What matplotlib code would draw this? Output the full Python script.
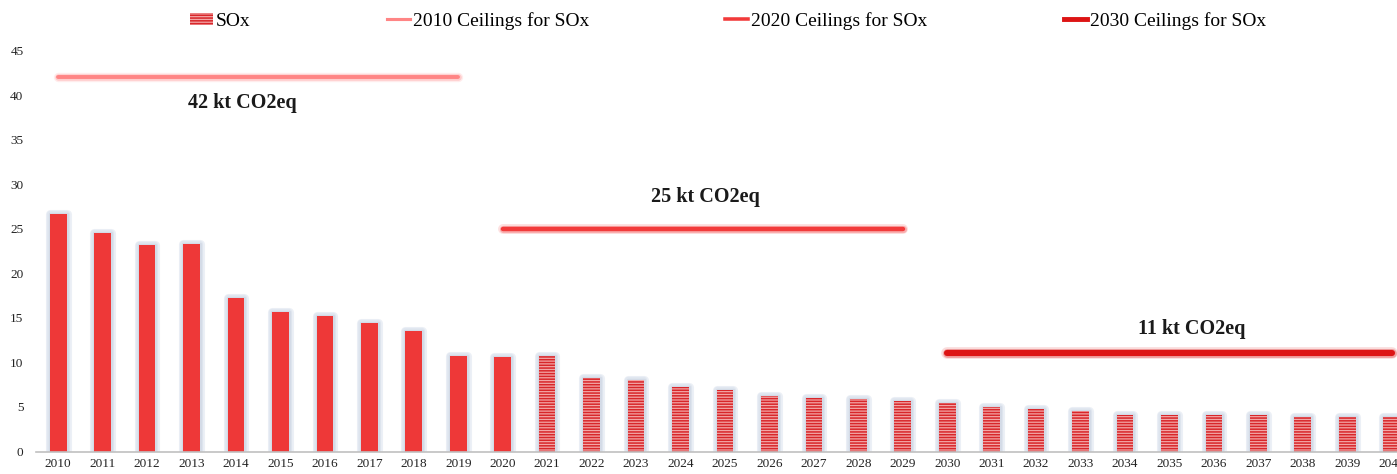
import matplotlib
matplotlib.use("Agg")
import matplotlib.pyplot as plt
import matplotlib.patheffects as pe
from matplotlib.patches import Patch
from matplotlib.lines import Line2D
import numpy as np

## Data
years = list(range(2010, 2041))
sox = [26.6, 24.5, 23.2, 23.3, 17.25, 15.7, 15.15, 14.45, 13.55, 10.7,
       10.65, 10.75, 8.2, 8.05, 7.2, 6.85, 6.25, 6.05, 5.9, 5.7,
       5.4, 4.95, 4.75, 4.6, 4.1, 4.1, 4.1, 4.1, 3.9, 3.9, 3.9]
n_actual = 11  # 2010-2020 are historic, the rest projected

ceiling_labels = ["2010 Ceilings for SOx", "2020 Ceilings for SOx", "2030 Ceilings for SOx"]
ceiling_values = [42, 25, 11]
ceiling_spans = [(2010, 2019), (2020, 2029), (2030, 2040)]
ceiling_texts = ["42 kt CO2eq", "25 kt CO2eq", "11 kt CO2eq"]

plt.rcParams['font.family'] = ['Liberation Serif', 'DejaVu Serif']
plt.rcParams['hatch.linewidth'] = 1.1

fig = plt.figure(figsize=(13.97, 4.74), dpi=100)
ax = fig.add_axes([36 / 1397, 1 - 451.5 / 474, 1 - 36 / 1397, (451.5 - 50.5) / 474])

x = np.arange(len(years))
# soft bluish halo around the bars
glow = [pe.Stroke(linewidth=6.5, foreground='#ecf0f6', joinstyle='round'),
        pe.Stroke(linewidth=4.5, foreground='#e1e7f0', joinstyle='round'),
        pe.Stroke(linewidth=2.5, foreground='#d4dbe7', joinstyle='round'),
        pe.Normal()]

bar_w = 0.375
solid = ax.bar(x[:n_actual], sox[:n_actual], width=bar_w, color='#ee3838', linewidth=0)
striped = ax.bar(x[n_actual:], sox[n_actual:], width=bar_w, color='#f3a6a6',
                 edgecolor='#d8262a', hatch='------', linewidth=0)
for b in list(solid) + list(striped):
    b.set_path_effects(glow)

# ceiling lines
line_colors = ['#ff8585', '#f23a3a', '#dd1414']
line_widths = [2.8, 3.2, 4.4]
for (y0, y1), val, col, lw in zip(ceiling_spans, ceiling_values, line_colors, line_widths):
    i0, i1 = years.index(y0), years.index(y1)
    ax.plot([i0, i1], [val, val], color=col, lw=lw, solid_capstyle='round',
            path_effects=[pe.Stroke(linewidth=lw + 4, foreground=col, alpha=0.15),
                          pe.Stroke(linewidth=lw + 2, foreground=col, alpha=0.3),
                          pe.Normal()])

ax.text(4.15, 39.1, ceiling_texts[0], ha='center', va='center', fontsize=14.5, fontweight='bold', color='#1a1a1a')
ax.text(14.55, 28.6, ceiling_texts[1], ha='center', va='center', fontsize=14.5, fontweight='bold', color='#1a1a1a')
ax.text(25.5, 13.7, ceiling_texts[2], ha='center', va='center', fontsize=14.5, fontweight='bold', color='#1a1a1a')

ax.set_xlim(-0.5, 30.12)
ax.set_ylim(0, 45)
ax.set_xticks(x)
ax.set_xticklabels([str(y) for y in years], fontsize=9.5, color='#222222')
ax.set_yticks(np.arange(0, 46, 5))
ax.tick_params(axis='y', labelsize=9.5, length=0, pad=9, labelcolor='#222222')
ax.tick_params(axis='x', length=0, pad=5)
for s in ['top', 'right', 'left']:
    ax.spines[s].set_visible(False)
ax.spines['bottom'].set_color('#c0c0c0')
ax.spines['bottom'].set_linewidth(1.2)

handles = [Patch(facecolor='#f3a6a6', edgecolor='#d8262a', hatch='------', linewidth=0)]
for col, lw in zip(line_colors, line_widths):
    handles.append(Line2D([], [], color=col, lw=lw * 0.8))
fig.legend(handles, ['SOx'] + ceiling_labels, loc='upper center', bbox_to_anchor=(0.521, 1.0),
           ncol=4, frameon=False, fontsize=14, handlelength=1.2, handletextpad=0.15,
           columnspacing=7.0, handleheight=0.6, borderaxespad=0.2)

fig.savefig('out.png', dpi=100)
